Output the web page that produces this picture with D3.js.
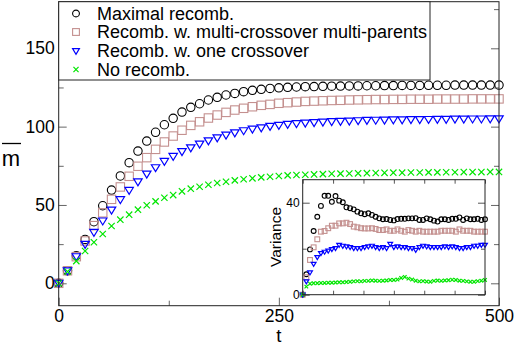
<!DOCTYPE html>
<html lang="en">
<head>
<meta charset="utf-8">
<title>Recombination</title>
<script src="https://cdn.jsdelivr.net/npm/d3@7/dist/d3.min.js"></script>
<style>
  body { margin: 0; background: #fff; }
  text { font-family: "Liberation Sans", Arial, sans-serif; fill: #000; }
</style>
</head>
<body>
<script>
// time points, 0..500 every 10
var tVals = d3.range(0, 501, 10);

// main panel: mean m
var maxRec = [0, 8, 17.6, 28, 39.3, 49.5, 59.5, 68.5, 77, 84.4, 90.8, 96.4, 101.2, 105.3, 109.3,
  112.3, 114.6, 117, 118.7, 120.2, 121.2, 122.3, 123.2, 123.8, 124.4, 124.8, 125.1, 125.3, 125.5,
  125.6, 125.7, 125.8, 125.9, 126, 126, 126.1, 126.1, 126.2, 126.2, 126.3, 126.3, 126.3, 126.4,
  126.4, 126.4, 126.5, 126.5, 126.5, 126.5, 126.5, 126.5];
var multiRec = [0, 8, 17, 27, 36.8, 45, 53.6, 61.5, 68.3, 74.7, 80.2, 85.5, 90.2, 94, 97.7,
  100.8, 103.1, 105.5, 107.4, 109.1, 110.6, 111.7, 112.7, 113.6, 114.2, 114.9, 115.3, 115.7, 116.1,
  116.3, 116.5, 116.7, 116.8, 117, 117.1, 117.2, 117.3, 117.3, 117.4, 117.4, 117.5, 117.5, 117.5,
  117.6, 117.6, 117.6, 117.6, 117.7, 117.7, 117.7, 117.7];
var oneRec = [0, 8, 17, 24.9, 32.5, 39.8, 46.8, 53.4, 59.3, 64.8, 69.7, 73.8, 77.8, 81, 84.1,
  86.5, 88.9, 91, 92.9, 94.6, 96.1, 97.4, 98.5, 99.3, 100.2, 100.8, 101.5, 101.9, 102.3,
  102.6, 102.9, 103.2, 103.4, 103.6, 103.8, 104, 104.1, 104.2, 104.3, 104.4, 104.5, 104.5, 104.6,
  104.7, 104.7, 104.8, 104.8, 104.9, 104.9, 105, 105];
var noRec = [0, 7.5, 14.2, 20.6, 26.2, 31.5, 36.6, 40.6, 43.8, 47, 49.8, 52.3, 54.6, 56.3, 58.7,
  60.4, 61.6, 62.9, 64, 64.8, 65.7, 66.4, 67, 67.6, 68, 68.5, 68.9, 69.1, 69.3,
  69.5, 69.7, 69.9, 70, 70.1, 70.2, 70.3, 70.4, 70.5, 70.6, 70.6, 70.7, 70.7, 70.8, 70.8, 70.9,
  70.9, 71, 71, 71, 71.1, 71.1];

// inset: variance
var maxVar = [0, 8.9, 19.7, 27.7, 33.9, 38.6, 43, 43, 40.4, 42.9, 40.9, 40.2, 38, 37.6, 37.1, 36.1,
  35.4, 35, 35.4, 34.7, 33.9, 33.2, 32.8, 32.9, 32.5, 32.3, 32.9, 33, 33, 33.2, 33.2, 33.3, 32.5,
  32.5, 33.2, 32.8, 32.2, 31.8, 32.8, 32.8, 32.5, 33, 33, 33.6, 32.5, 33.2, 32.8, 32.8, 33, 32.5, 32.8];
var multiVar = [0, 7.6, 15.1, 20.6, 24.1, 27.4, 27.7, 28.9, 30, 30, 31, 31, 31.3, 30.7, 29.6, 29.3,
  28.9, 28.8, 28.8, 28.9, 28.6, 28.1, 28.1, 28.4, 27.8, 27.8, 28.4, 27.8, 27.4, 28.1, 27.8, 27.4,
  27.8, 27.4, 27.4, 27.4, 27.4, 27.4, 27.8, 27.8, 27.8, 27.8, 27.4, 28.4, 27.8, 27.8, 27.8, 27.4,
  27.4, 27.4, 27.4];
var oneVar = [0, 5.7, 9.6, 13.3, 16.3, 18, 18.6, 19.1, 19.7, 20.2, 21.6, 21.2, 20.9, 20.6, 20.2, 20.2,
  20.2, 20.6, 20.9, 21.2, 20.6, 20.2, 20.6, 20.2, 22, 20.6, 20.9, 20.6, 20.6, 20.2, 20.2, 19.4,
  20.6, 21.2, 20.9, 20.6, 20.6, 20.6, 20.6, 20.9, 20.6, 20.9, 20.6, 20.2, 20.2, 20.6, 20.6, 21.2,
  21.2, 21.6, 21.6];
var noVar = [0, 3.5, 4.8, 5, 5, 5.1, 5.1, 5.2, 5.2, 5.3, 5.4, 5.4, 5.5, 5.6, 5.8, 5.9, 5.8, 6, 6,
  6.2, 6.1, 6, 6.1, 6.2, 6.4, 6.4, 6.6, 7.3, 7.7, 7, 6.6, 6.1, 5.8, 5.9, 5.7, 5.6, 6, 6.2, 6, 6.2,
  6.3, 6.5, 6.4, 6.1, 6, 5.8, 5.6, 5.6, 5.9, 6.1, 6.4];

var legendLabels = ["Maximal recomb.", "Recomb. w. multi-crossover multi-parents",
  "Recomb. w. one crossover", "No recomb."];
var xTicks = [0, 250, 500];
var xMinor = [125, 375];
var yTicks = [0, 50, 100, 150];
var yMinor = [25, 75, 125, 175];
var insetYTicks = [0, 40];
var insetYMinor = [20];

var w = 515, h = 346;
var svg = d3.select("body").append("svg").attr("width", w).attr("height", h);

// SCALES
var x = d3.scaleLinear().domain([0, 500]).range([58.7, 499]);
var y = d3.scaleLinear().domain([0, 150]).range([283.3, 48.3]);
var frameTop = 1.7, frameBottom = 305.7;

var series = [
  {m: maxRec, v: maxVar, shape: "circle", color: "#000"},
  {m: multiRec, v: multiVar, shape: "square", color: "#c4908f"},
  {m: oneRec, v: oneVar, shape: "tri", color: "#0000ff"},
  {m: noRec, v: noVar, shape: "cross", color: "#00e600"}
];

function marker(g, shape, color, s) {
  if (shape == "circle") {
    g.append("circle").attr("r", s).attr("fill", "none").attr("stroke", color).attr("stroke-width", 1.1);
  } else if (shape == "square") {
    g.append("rect").attr("x", -s).attr("y", -s).attr("width", 2 * s).attr("height", 2 * s)
      .attr("fill", "none").attr("stroke", color).attr("stroke-width", 1.1);
  } else if (shape == "tri") {
    g.append("path").attr("d", "M" + (-s) + "," + (-s * 0.7) + "L" + s + "," + (-s * 0.7) + "L0," + (s * 0.95) + "Z")
      .attr("fill", "none").attr("stroke", color).attr("stroke-width", 1.2);
  } else {
    var c = s * 0.75;
    g.append("path").attr("d", "M" + (-c) + "," + (-c) + "L" + c + "," + c + "M" + (-c) + "," + c + "L" + c + "," + (-c))
      .attr("stroke", color).attr("stroke-width", 1.2);
  }
}

// MAIN PLOT points
series.forEach(function(s) {
  svg.append("g").selectAll("g")
    .data(s.m)
    .enter()
    .append("g")
    .attr("transform", function(d, i) { return "translate(" + x(tVals[i]) + "," + y(d) + ")"; })
    .each(function() { marker(d3.select(this), s.shape, s.color, 4.2); });
});

// MAIN AXES
var axCol = "#222";
svg.append("g").attr("transform", "translate(0," + frameBottom + ")")
  .call(d3.axisBottom(x).tickValues(xTicks).tickSize(-8).tickPadding(4).tickFormat(d3.format("d")))
  .call(function(g) { g.select(".domain").remove(); g.selectAll("text").attr("font-size", "17.5px"); });
svg.append("g").attr("transform", "translate(0," + frameBottom + ")")
  .call(d3.axisBottom(x).tickValues(xMinor).tickSize(-5).tickFormat(""))
  .call(function(g) { g.select(".domain").remove(); });
svg.append("g").attr("transform", "translate(" + x(0) + ",0)")
  .call(d3.axisLeft(y).tickValues(yTicks).tickSize(-8).tickPadding(4).tickFormat(d3.format("d")))
  .call(function(g) { g.select(".domain").remove(); g.selectAll("text").attr("font-size", "17.5px"); });
svg.append("g").attr("transform", "translate(" + x(0) + ",0)")
  .call(d3.axisLeft(y).tickValues(yMinor).tickSize(-5).tickFormat(""))
  .call(function(g) { g.select(".domain").remove(); });
svg.append("g").attr("transform", "translate(" + x(500) + ",0)")
  .call(d3.axisRight(y).tickValues(yTicks).tickSize(-8).tickFormat(""))
  .call(function(g) { g.select(".domain").remove(); });
svg.append("g").attr("transform", "translate(" + x(500) + ",0)")
  .call(d3.axisRight(y).tickValues(yMinor).tickSize(-5).tickFormat(""))
  .call(function(g) { g.select(".domain").remove(); });
svg.selectAll(".tick line").attr("stroke", "#666");

svg.append("rect").attr("x", x(0)).attr("y", frameTop).attr("width", x(500) - x(0))
  .attr("height", frameBottom - frameTop)
  .attr("fill", "none").attr("stroke", axCol).attr("stroke-width", 1);

// axis titles
svg.append("text").attr("x", x(250)).attr("y", 341.5).attr("text-anchor", "middle")
  .attr("font-size", "18.5px").text("t");
svg.append("text").attr("x", 11).attr("y", 166).attr("text-anchor", "middle")
  .attr("font-size", "22px").text("m");
svg.append("line").attr("x1", 2).attr("x2", 21).attr("y1", 143.5).attr("y2", 143.5)
  .attr("stroke", "#000").attr("stroke-width", 1.3);

// LEGEND
var lg = svg.append("g");
lg.append("rect").attr("x", x(0)).attr("y", frameTop).attr("width", 430 - x(0)).attr("height", 80 - frameTop)
  .attr("fill", "#fff").attr("stroke", axCol);
var rowY = [13.5, 32, 51, 69.5];
legendLabels.forEach(function(lab, i) {
  var g = lg.append("g").attr("transform", "translate(76," + rowY[i] + ")");
  marker(g, series[i].shape, series[i].color, 3.4);
  lg.append("text").attr("x", 97).attr("y", rowY[i]).attr("dy", "0.36em")
    .attr("font-size", "18px").text(lab);
});

// INSET
var ix = d3.scaleLinear().domain([0, 500]).range([302.7, 485]);
var iy = d3.scaleLinear().domain([0, 50]).range([294.7, 179.7]);
var inset = svg.append("g");
inset.append("rect").attr("x", ix(0)).attr("y", iy(50)).attr("width", ix(500) - ix(0))
  .attr("height", iy(0) - iy(50)).attr("fill", "#fff");

series.forEach(function(s) {
  inset.append("g").selectAll("g")
    .data(s.v)
    .enter()
    .append("g")
    .attr("transform", function(d, i) { return "translate(" + ix(tVals[i]) + "," + iy(d) + ")"; })
    .each(function() { marker(d3.select(this), s.shape, s.color, 2.4); });
});

var ixt = d3.range(0, 501, 500 / 6);
inset.append("g").attr("transform", "translate(0," + iy(0) + ")")
  .call(d3.axisBottom(ix).tickValues(ixt).tickSize(-4).tickFormat(""))
  .call(function(g) { g.select(".domain").remove(); });
inset.append("g").attr("transform", "translate(0," + iy(50) + ")")
  .call(d3.axisTop(ix).tickValues(ixt).tickSize(-4).tickFormat(""))
  .call(function(g) { g.select(".domain").remove(); });
inset.append("g").attr("transform", "translate(" + ix(0) + ",0)")
  .call(d3.axisLeft(iy).tickValues(insetYTicks).tickSize(-7).tickPadding(3).tickFormat(d3.format("d")))
  .call(function(g) { g.select(".domain").remove(); g.selectAll("text").attr("font-size", "12px"); });
inset.append("g").attr("transform", "translate(" + ix(0) + ",0)")
  .call(d3.axisLeft(iy).tickValues(insetYMinor).tickSize(-4).tickFormat(""))
  .call(function(g) { g.select(".domain").remove(); });
inset.append("g").attr("transform", "translate(" + ix(500) + ",0)")
  .call(d3.axisRight(iy).tickValues(insetYTicks).tickSize(-7).tickFormat(""))
  .call(function(g) { g.select(".domain").remove(); });
inset.append("g").attr("transform", "translate(" + ix(500) + ",0)")
  .call(d3.axisRight(iy).tickValues(insetYMinor).tickSize(-4).tickFormat(""))
  .call(function(g) { g.select(".domain").remove(); });
inset.selectAll(".tick line").attr("stroke", "#555");

inset.append("rect").attr("x", ix(0)).attr("y", iy(50)).attr("width", ix(500) - ix(0))
  .attr("height", iy(0) - iy(50)).attr("fill", "none").attr("stroke", axCol);

inset.append("text").attr("transform", "translate(281,237) rotate(-90)")
  .attr("text-anchor", "middle").attr("font-size", "15.5px").text("Variance");
</script>
</body>
</html>
